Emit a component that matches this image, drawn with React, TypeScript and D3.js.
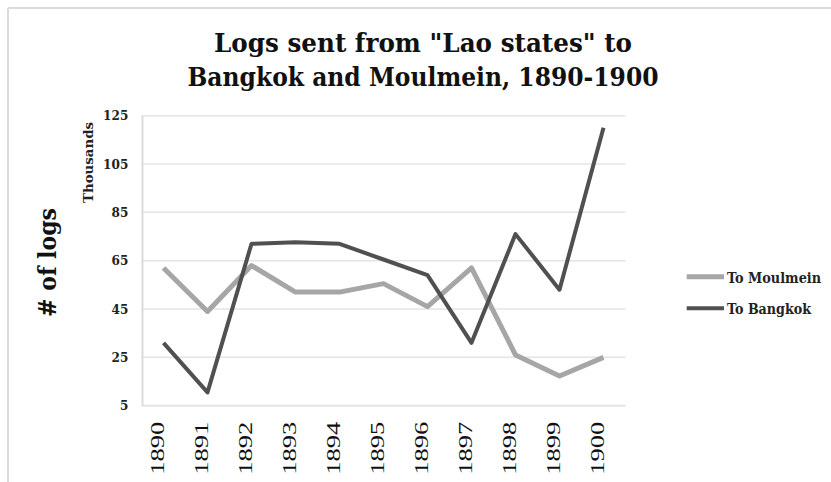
import React from "react";
import * as d3 from "d3";

const years = ["1890","1891","1892","1893","1894","1895","1896","1897","1898","1899","1900"];
const moulmein = [62, 44, 63, 52, 52, 55.5, 46, 62, 26, 17.3, 25];
const bangkok = [31, 10.5, 72, 72.6, 72, 65.5, 59, 31, 76, 53, 120];
const yTicks = [5, 25, 45, 65, 85, 105, 125];
const titleLines = ['Logs sent from "Lao states" to', "Bangkok and Moulmein, 1890-1900"];
const seriesNames = ["To Moulmein", "To Bangkok"];
const seriesColors = ["#a6a6a6", "#505050"];
const seriesWidths = [5, 4];

const W = 831, H = 482;
const serif = "'Liberation Serif', 'Times New Roman', serif";
const boldSerif = "'DejaVu Serif', serif";

export default function App() {
  const x = d3.scaleBand<string>().domain(years).range([141.5, 625.5]);
  const cx = (d: string) => (x(d) as number) + x.bandwidth() / 2;
  const y = d3.scaleLinear().domain([5, 125]).range([405.7, 115.7]);
  const line = d3.line<number>().x((_, i) => cx(years[i])).y((v) => y(v));
  const series = [moulmein, bangkok];
  const titleLens = [418, 471];
  const legendLens = [94, 84];

  return (
    <svg width={W} height={H} style={{ position: "absolute", left: 0, top: 0, background: "#fff" }}>
      <rect x={0} y={0} width={W} height={H} fill="#fff" />
      <line x1={8} y1={8} x2={W} y2={8} stroke="#dcdcdc" strokeWidth={2} />
      <line x1={8} y1={8} x2={8} y2={H} stroke="#dcdcdc" strokeWidth={2} />
      {titleLines.map((t, i) => (
        <text key={t} x={423} y={51.5 + i * 34} textAnchor="middle" fontFamily={boldSerif} fontWeight="bold"
          fontSize={26} fill="#111" textLength={titleLens[i]} lengthAdjust="spacingAndGlyphs">{t}</text>
      ))}
      {yTicks.map((t) => (
        <line key={"g" + t} x1={141.5} x2={625.5} y1={y(t)} y2={y(t)} stroke="#e4e4e4" strokeWidth={t === 5 ? 2 : 1.5} />
      ))}
      <line x1={142.5} x2={142.5} y1={y(125)} y2={y(5)} stroke="#dcdcdc" strokeWidth={2} />
      {yTicks.map((t) => (
        <text key={"t" + t} x={128.3} y={y(t)} dy="0.36em" textAnchor="end" fontFamily={boldSerif} fontWeight="bold"
          fontSize={13} fill="#222" textLength={String(t).length * 8.4} lengthAdjust="spacingAndGlyphs">{t}</text>
      ))}
      <text transform="translate(93,162.5) rotate(-90)" textAnchor="middle" fontFamily={boldSerif} fontWeight="bold"
        fontSize={12} fill="#222" textLength={81} lengthAdjust="spacingAndGlyphs">Thousands</text>
      <text transform="translate(56,262.5) rotate(-90)" textAnchor="middle" fontFamily={boldSerif} fontWeight="bold"
        fontSize={24} fill="#111" textLength={109} lengthAdjust="spacingAndGlyphs"># of logs</text>
      {years.map((yr) => (
        <text key={yr} transform={`translate(${cx(yr)},421.7) rotate(-90)`} textAnchor="end" fontFamily={serif}
          fontSize={19} fill="#111" textLength={53} lengthAdjust="spacingAndGlyphs">{yr}</text>
      ))}
      {series.map((s, i) => (
        <path key={seriesNames[i]} d={line(s) as string} fill="none" stroke={seriesColors[i]}
          strokeWidth={seriesWidths[i]} strokeLinejoin="round" strokeLinecap="butt" />
      ))}
      {seriesNames.map((n, i) => (
        <g key={n}>
          <line x1={686.7} x2={724} y1={276.7 + i * 31.6} y2={276.7 + i * 31.6} stroke={seriesColors[i]} strokeWidth={seriesWidths[i]} />
          <text x={727} y={282.5 + i * 31.2} fontFamily={boldSerif} fontWeight="bold" fontSize={14} fill="#222"
            textLength={legendLens[i]} lengthAdjust="spacingAndGlyphs">{n}</text>
        </g>
      ))}
    </svg>
  );
}
